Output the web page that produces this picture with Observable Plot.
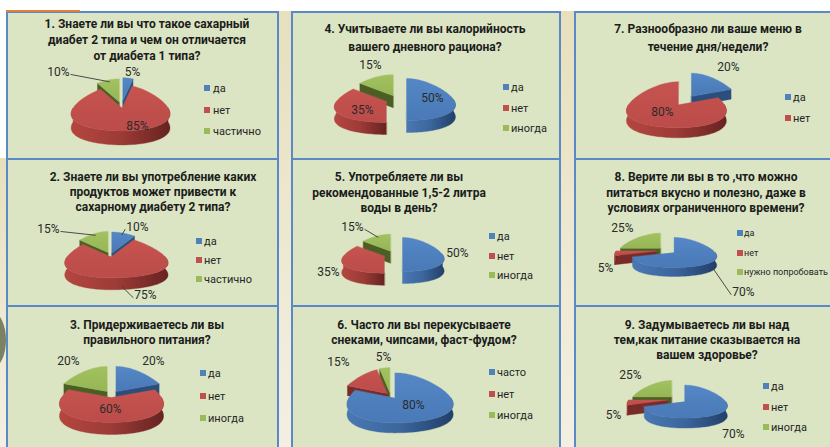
<!DOCTYPE html>
<html lang="ru">
<head>
<meta charset="utf-8">
<script src="https://cdn.jsdelivr.net/npm/d3@7"></script>
<script src="https://cdn.jsdelivr.net/npm/@observablehq/plot@0.6"></script>
<style>
html,body{margin:0;padding:0;background:#fff;}
#root{position:relative;width:830px;height:447px;overflow:hidden;background:#fff;font-family:Roboto,"Noto Sans",sans-serif;}
.strip{position:absolute;background:linear-gradient(#e6e0bd,#f3f0e3);}
.panel{position:absolute;box-sizing:border-box;border:2px solid #5b89c7;background:#dbe5c3;}
.tl{position:absolute;transform:translate(-50%,-50%);font-weight:700;font-size:12px;color:#1c1c1c;white-space:nowrap;line-height:1;}
.lg{position:absolute;transform:translateY(-50%);color:#262626;white-space:nowrap;line-height:1;}
.sw{position:absolute;width:6px;height:6px;}
.pie{position:absolute;}
</style>
</head>
<body>
<svg width="0" height="0" style="position:absolute">
  <defs>
    <linearGradient id="sideBlue" x1="0" x2="1" y1="0" y2="0"><stop offset="0" stop-color="#4a78b3"/><stop offset="0.5" stop-color="#3b659c"/><stop offset="1" stop-color="#223f69"/></linearGradient>
    <linearGradient id="sideRed" x1="0" x2="1" y1="0" y2="0"><stop offset="0" stop-color="#b5463f"/><stop offset="0.5" stop-color="#9c3b37"/><stop offset="1" stop-color="#672321"/></linearGradient>
    <linearGradient id="sideGreen" x1="0" x2="1" y1="0" y2="0"><stop offset="0" stop-color="#8fae4e"/><stop offset="0.5" stop-color="#7a963f"/><stop offset="1" stop-color="#4d6224"/></linearGradient>
    <linearGradient id="topBlue" x1="0" x2="0" y1="0" y2="1"><stop offset="0" stop-color="#5587c6"/><stop offset="1" stop-color="#4979b6"/></linearGradient>
    <linearGradient id="topRed" x1="0" x2="0" y1="0" y2="1"><stop offset="0" stop-color="#c6534f"/><stop offset="1" stop-color="#bb4c49"/></linearGradient>
    <linearGradient id="topGreen" x1="0" x2="0" y1="0" y2="1"><stop offset="0" stop-color="#a2c160"/><stop offset="1" stop-color="#96b655"/></linearGradient>
  </defs>
</svg>
<div id="root"></div>
<script>
// ---------------- DATA ----------------
const titles = [
  ["1. Знаете ли вы что такое сахарный", "диабет 2 типа и чем он отличается", "от диабета 1 типа?"],
  ["2. Знаете ли вы употребление каких", "продуктов может привести к", "сахарному диабету 2 типа?"],
  ["3. Придерживаетесь ли вы", "правильного питания?"],
  ["4. Учитываете ли вы калорийность", "вашего дневного рациона?"],
  ["5. Употребляете ли вы", "рекомендованные 1,5-2 литра", "воды в день?"],
  ["6. Часто ли вы перекусываете", "снеками, чипсами, фаст-фудом?"],
  ["7. Разнообразно ли ваше меню в", "течение дня/недели?"],
  ["8. Верите ли вы в то ,что можно", "питаться вкусно и полезно, даже в", "условиях ограниченного времени?"],
  ["9. Задумываетесь ли вы над", "тем,как питание сказывается на", "вашем здоровье?"]
];
const answers = [
  ["да", "нет", "частично"],
  ["да", "нет", "частично"],
  ["да", "нет", "иногда"],
  ["да", "нет", "иногда"],
  ["да", "нет", "иногда"],
  ["часто", "нет", "иногда"],
  ["да", "нет"],
  ["да", "нет", "нужно попробовать"],
  ["да", "нет", "иногда"]
];
const percents = [
  [5, 85, 10],
  [10, 75, 15],
  [20, 60, 20],
  [50, 35, 15],
  [50, 35, 15],
  [80, 15, 5],
  [20, 80],
  [70, 5, 25],
  [70, 5, 25]
];

// ---------------- STYLE ----------------
const baseColors = ["#4f81bd", "#c0504d", "#9bbb59"];
const topFills = ["url(#topBlue)", "url(#topRed)", "url(#topGreen)"];
const sideFills = ["url(#sideBlue)", "url(#sideRed)", "url(#sideGreen)"];
const wallFills = ["#2c4e7c", "#782b29", "#4b5e24"];

// ---------------- LAYOUT (absolute pixel positions) ----------------
const cols = [{x: 6, w: 273}, {x: 291, w: 270}, {x: 574, w: 260}];
const rows = [{y: 11, h: 149}, {y: 158, h: 149}, {y: 305, h: 146}];
const cellOf = [[0,0],[0,1],[0,2],[1,0],[1,1],[1,2],[2,0],[2,1],[2,2]];
const titleLayout = [
  {cx: 147, y: 24, lh: 16}, {cx: 153, y: 177, lh: 15}, {cx: 147, y: 325, lh: 14.5},
  {cx: 425, y: 29, lh: 17.5}, {cx: 399, y: 177, lh: 15.5}, {cx: 424, y: 325, lh: 14.5},
  {cx: 708, y: 29, lh: 17.5}, {cx: 706, y: 177, lh: 15.5}, {cx: 707, y: 325, lh: 15}
];
const legendLayout = [
  {sx: 204, tx: 213, y: 88, dy: 21.5, fs: 11},
  {sx: 196, tx: 204, y: 241, dy: 19, fs: 11},
  {sx: 200, tx: 208, y: 373, dy: 22.5, fs: 11},
  {sx: 503, tx: 511, y: 87, dy: 20.5, fs: 11},
  {sx: 489, tx: 497, y: 236, dy: 19.5, fs: 11},
  {sx: 489, tx: 497, y: 372, dy: 21.5, fs: 11},
  {sx: 785, tx: 793, y: 97, dy: 21, fs: 11},
  {sx: 737, tx: 744, y: 233, dy: 19.5, fs: 9},
  {sx: 763, tx: 771, y: 386, dy: 20.5, fs: 11}
];
const pieLayout = [
  {cx: 121, cy: 106, rxL: 49, rxR: 46, ry: 23, depth: 14, p: 0.3, ex: [12, 3, 10]},
  {cx: 110, cy: 255, rxL: 44, rxR: 54, ry: 21, depth: 12, p: 0.35, ex: [6, 3, 8]},
  {cx: 111, cy: 395, rxL: 50, rxR: 50, ry: 25, depth: 12, p: 0.3, ex: [10, 4, 10]},
  {cx: 396, cy: 99, rxL: 50, rxR: 47, ry: 21, depth: 12, p: 0.3, ex: [10, 10, 10]},
  {cx: 393, cy: 254, rxL: 41, rxR: 40, ry: 17, depth: 12, p: 0.3, ex: [9, 9, 9]},
  {cx: 390, cy: 395, rxL: 46, rxR: 56, ry: 25, depth: 10, p: 0.3, ex: [6, 6, 6]},
  {cx: 686, cy: 100, rxL: 50, rxR: 46, ry: 23, depth: 10, p: 0.3, ex: [11, 11]},
  {cx: 665, cy: 250, rxL: 40, rxR: 41, ry: 15, depth: 9, p: 0.3, ex: [9, 9, 9]},
  {cx: 676, cy: 399, rxL: 39, rxR: 41, ry: 16.5, depth: 10, p: 0.3, ex: [8.6, 8.6, 8.6]}
];
const labelLayout = [
  [[132, 72], [137, 126], [58, 72]],
  [[137, 227], [145, 295], [48, 229]],
  [[153, 361], [110, 409], [68, 361]],
  [[432, 98], [362, 110], [370, 65]],
  [[457, 253], [328, 272], [352, 227]],
  [[413, 405], [338, 362], [383, 357]],
  [[728, 67], [662, 112]],
  [[743, 292], [605, 268], [622, 228]],
  [[733, 434], [613, 415], [630, 375]]
];
const leaderLayout = [
  [false, false, true],
  [true, true, true],
  [false, false, false],
  [false, false, false],
  [false, false, true],
  [false, false, false],
  [false, false],
  [true, false, false],
  [false, false, false]
];

// ---------------- GEOMETRY ----------------
function pieGeometry(vals, cfg) {
  const total = d3.sum(vals);
  const k = cfg.ry / ((cfg.rxL + cfg.rxR) / 2);
  let acc = 0;
  const slices = vals.map((v, i) => {
    const a0 = acc / total * 2 * Math.PI; acc += v;
    const a1 = acc / total * 2 * Math.PI;
    const m = (a0 + a1) / 2, vm = -Math.cos(m), e = cfg.ex[i] || 0;
    return {i, a0, a1, m, ox: cfg.cx + e * Math.sin(m) * (1 + cfg.p * vm), oy: cfg.cy + e * vm * k};
  });
  const P = (s, th, dz = 0, f = 1) => {
    const u = Math.sin(th), v = -Math.cos(th);
    const rx = u >= 0 ? cfg.rxR : cfg.rxL;
    return [s.ox + f * rx * u * (1 + cfg.p * v), s.oy + f * cfg.ry * v + dz];
  };
  const arc = (s, t0, t1, dz) => {
    const n = Math.max(2, Math.ceil(Math.abs(t1 - t0) / (Math.PI / 90)));
    return d3.range(n + 1).map(j => P(s, t0 + (t1 - t0) * j / n, dz));
  };
  const polys = [];
  const order = slices.slice().sort((a, b) => Math.cos(b.m) - Math.cos(a.m));
  for (const s of order) {
    const C = [s.ox, s.oy], Cd = [s.ox, s.oy + cfg.depth];
    const wall = th => [C, P(s, th), P(s, th, cfg.depth), Cd];
    if (Math.sin(s.a0) < -1e-6) polys.push({pts: wall(s.a0), fill: wallFills[s.i]});
    if (Math.sin(s.a1) > 1e-6) polys.push({pts: wall(s.a1), fill: wallFills[s.i]});
    const t0 = Math.max(s.a0, Math.PI / 2), t1 = Math.min(s.a1, 3 * Math.PI / 2);
    if (t1 > t0) polys.push({pts: [...arc(s, t0, t1, 0), ...arc(s, t1, t0, cfg.depth)], fill: sideFills[s.i]});
  }
  for (const s of slices) polys.push({pts: [[s.ox, s.oy], ...arc(s, s.a0, s.a1, 0)], fill: topFills[s.i]});
  const rowsOut = polys.flatMap((p, j) => p.pts.map(([x, y]) => ({id: j, x, y, fill: p.fill})));
  const anchor = s => {
    const vm = -Math.cos(s.m);
    return vm > 0.3 ? P(s, s.m, cfg.depth * 0.8, 1) : P(s, s.m, 0, 0.92);
  };
  return {rows: rowsOut, slices, anchor};
}

// ---------------- BUILD ----------------
const root = document.getElementById("root");
function el(cls, css, text) {
  const d = document.createElement("div");
  d.className = cls; Object.assign(d.style, css);
  if (text != null) d.textContent = text;
  root.appendChild(d); return d;
}
// beige strips between columns and at left
el("strip", {left: "279px", top: "11px", width: "12px", height: "440px"});
el("strip", {left: "561px", top: "11px", width: "13px", height: "440px"});
el("strip", {left: "0px", top: "158px", width: "6px", height: "290px"});
el("", {position: "absolute", left: "-22px", top: "312px", width: "28px", height: "56px", borderRadius: "50%", background: "#66704f", opacity: "0.85"});

percents.forEach((vals, q) => {
  const [ci, ri] = cellOf[q];
  const x0 = cols[ci].x, w = cols[ci].w, y0 = rows[ri].y, h = rows[ri].h;
  el("panel", {left: x0 + "px", top: y0 + "px", width: w + "px", height: h + "px"});
});
el("", {position: "absolute", left: "6px", top: "10px", width: "74px", height: "2px", background: "#e0803e"});

percents.forEach((vals, q) => {
  const [ci, ri] = cellOf[q];
  const x0 = cols[ci].x, w = cols[ci].w, y0 = rows[ri].y, h = rows[ri].h;
  const cfg = pieLayout[q];
  const geo = pieGeometry(vals, cfg);
  const labels = vals.map((v, i) => ({x: labelLayout[q][i][0], y: labelLayout[q][i][1], t: v + "%"}));
  const leaders = [];
  vals.forEach((v, i) => {
    if (!leaderLayout[q][i]) return;
    const a = geo.anchor(geo.slices[i]);
    const [lx, ly] = labelLayout[q][i];
    const half = (String(v).length * 6.7 + 9.5) / 2 + 1;
    const ex = lx + (a[0] > lx ? half : -half);
    leaders.push({id: i, x: a[0], y: a[1]}, {id: i, x: ex, y: ly + 2});
  });
  const svg = Plot.plot({
    width: w, height: h, margin: 0,
    x: {domain: [x0, x0 + w], range: [0, w], axis: null},
    y: {domain: [y0, y0 + h], range: [0, h], axis: null},
    color: {type: "identity"},
    style: {background: "transparent", overflow: "visible"},
    marks: [
      Plot.line(geo.rows, {x: "x", y: "y", z: "id", fill: "fill", stroke: "fill", strokeWidth: 0.4, curve: "linear-closed"}),
      Plot.line(leaders, {x: "x", y: "y", z: "id", stroke: "#3a3a3a", strokeWidth: 0.9}),
      Plot.text(labels, {x: "x", y: "y", text: "t", fontSize: 12, fontFamily: "Roboto, sans-serif", fill: "#2a2a2a"})
    ]
  });
  svg.classList.add("pie");
  Object.assign(svg.style, {left: x0 + "px", top: y0 + "px"});
  root.appendChild(svg);

  const tl = titleLayout[q];
  titles[q].forEach((line, j) => el("tl", {left: tl.cx + "px", top: (tl.y + j * tl.lh) + "px"}, line));

  const lg = legendLayout[q];
  answers[q].forEach((name, j) => {
    const yy = lg.y + j * lg.dy;
    el("sw", {left: lg.sx + "px", top: (yy - 3) + "px", background: baseColors[j]});
    el("lg", {left: lg.tx + "px", top: yy + "px", fontSize: lg.fs + "px"}, name);
  });
});
</script>
</body>
</html>
